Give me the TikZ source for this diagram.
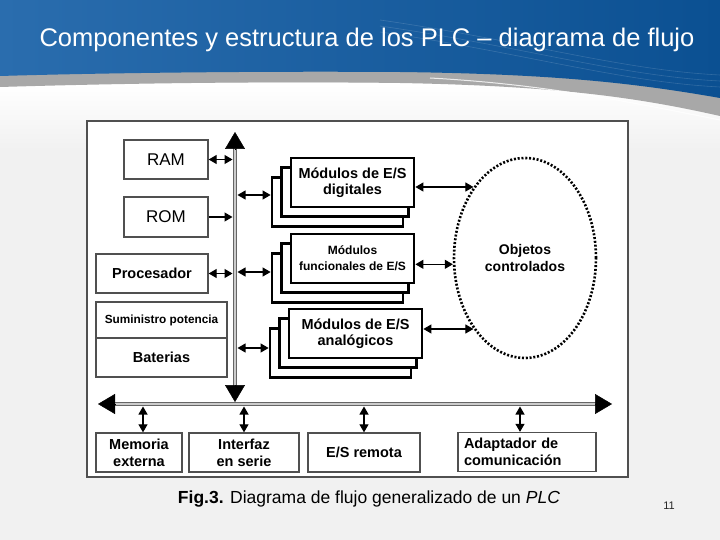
\documentclass[tikz,border=0pt]{standalone}
\usepackage{fontspec}
\setmainfont{Liberation Sans}
\usetikzlibrary{arrows.meta,shapes.geometric,calc}

\definecolor{hdrlight}{HTML}{2A6DAE}
\definecolor{hdrdark}{HTML}{0B5092}
\definecolor{swoosh}{HTML}{A8A8A8}
\definecolor{pagebg}{HTML}{F1F1F1}
\definecolor{framegray}{HTML}{505050}

\newcommand{\labfont}{\fontsize{14.5}{17}\selectfont\bfseries}

\tikzstyle{unit} = [draw=framegray,line width=1.3pt,fill=white,inner sep=0pt,align=center,font=\labfont]
\tikzstyle{module} = [draw=black,line width=2.8pt,fill=white,inner sep=0pt,align=center]
\tikzstyle{busline} = [draw=gray!80!black,double=gray!40,line width=0.9pt,double distance=1.8pt]
\tikzstyle{bustip} = [-{Triangle[length=17pt,width=20pt]},line width=0.5pt]
\tikzstyle{twoway} = [{Triangle[length=8pt,width=9pt]}-{Triangle[length=8pt,width=9pt]},line width=1.1pt]
\tikzstyle{oneway} = [-{Triangle[length=8pt,width=9pt]},line width=1.1pt]
\tikzstyle{objects} = [ellipse,draw,line width=2.6pt,dash pattern=on 2pt off 1.8pt,minimum width=142pt,minimum height=200pt,inner sep=0pt,align=center,font=\fontsize{14}{17}\selectfont\bfseries]

\begin{document}
\begin{tikzpicture}[x=1pt,y=-1pt]
      %background
      \fill[pagebg] (0,0) rectangle (720,540);
      \useasboundingbox (0,0) rectangle (720,540);
      \shade[top color=white,bottom color=pagebg] (0,84) rectangle (720,150);
      \fill[swoosh] (0,60) -- (720,60) -- (720,116) .. controls (640,98) and (560,86) .. (400,83) .. controls (250,81) and (100,84) .. (0,87) -- cycle;
      \draw[white,line width=1pt,opacity=0.8] (430,78) .. controls (540,84) and (620,100) .. (720,120);
      \shade[left color=hdrlight,right color=hdrdark] (0,0) -- (720,0) -- (720,98) .. controls (640,84) and (560,74) .. (400,72) .. controls (250,71) and (100,73) .. (0,76) -- cycle;
      \foreach \dy in {0,6,12}
        \draw[white,opacity=0.15,line width=0.6pt] (380,20+\dy) .. controls (520,40+\dy) and (620,70+\dy) .. (720,75+\dy);
      \node[font=\fontsize{25.5}{30}\selectfont,white,anchor=base] (title) at (367,47) {Componentes y estructura de los PLC – diagrama de flujo};

      %frame
      \draw[framegray,line width=1.6pt,fill=white] (87,121) rectangle (628,477);

      %buses
      \coordinate (vtop) at (235,132);
      \coordinate (vbot) at (235,402);
      \coordinate (hleft) at (98,404);
      \coordinate (hright) at (612,404);
      \draw[busline,shorten <=15pt,shorten >=15pt] (vtop) -- (vbot);
      \draw[busline,shorten <=15pt,shorten >=15pt] (hleft) -- (hright);
      \draw[bustip] ($(vtop)+(0,17)$) -- (vtop);
      \draw[bustip] ($(vbot)+(0,-17)$) -- (vbot);
      \draw[bustip] ($(hleft)+(17,0)$) -- (hleft);
      \draw[bustip] ($(hright)+(-17,0)$) -- (hright);

      %units
      \foreach \name/\x/\y/\w/\h/\txt in {
        ram/166/159.5/84/39/{\fontsize{17}{19}\selectfont\mdseries RAM},
        rom/166/217/84/40/{\fontsize{17}{19}\selectfont\mdseries ROM},
        proc/152/273.5/112/39/Procesador,
        sum/161.5/320/131/36/{\fontsize{11.8}{14}\selectfont\bfseries Suministro potencia},
        bat/161.5/357.5/131/39/Baterias,
        mem/139/452.5/86/39/{Memoria\\externa},
        ser/244/452.5/110/39/{Interfaz\\en serie},
        rem/364/452.5/112/39/{E/S remota}}
      {
        \node[unit,minimum width=\w,minimum height=\h] (\name) at (\x,\y) {\txt};
      };
      \node[unit,minimum width=138,minimum height=39,text width=126pt,align=left] (ada) at (527,452) {Adaptador de\\comunicación};

      %modules
      \foreach \name/\x/\y/\w/\sz/\txt in {
        dig/352.5/182.5/123/14.5/{Módulos de E/S\\digitales},
        fun/352.5/258.5/123/12/{Módulos\\funcionales de E/S},
        ana/355.5/333.5/133/14.5/{Módulos de E/S\\analógicos}}
      {
        \foreach \k in {2,1}
          \node[module,minimum width=\w+4*\k,minimum height=49] (\name\k) at (\x-7.5*\k,\y+9.75*\k) {};
        \node[module,minimum width=\w,minimum height=49,font=\fontsize{\sz}{16}\selectfont\bfseries] (\name) at (\x,\y) {\txt};
      };

      \node[objects] (obj) at (525,258) {Objetos\\controlados};

      %edges
      \draw[twoway,shorten >=2.5pt] (ram.east) -- (ram.east -| vtop);
      \draw[oneway,shorten >=2.5pt] (rom.east) -- (rom.east -| vtop);
      \draw[twoway,shorten >=2.5pt] (proc.east) -- (proc.east -| vtop);
      \foreach \tap/\y/\target in {bdig/195/dig2, bfun/272/fun2, bana/348/ana2}
      {
        \coordinate (\tap) at (235,\y);
        \draw[twoway,shorten <=2.5pt] (\tap) -- (\tap -| \target.west);
      };
      \foreach \tap/\x/\target in {tmem/143/mem, tser/244/ser, trem/364/rem, tada/520/ada}
      {
        \coordinate (\tap) at (\x,404);
        \draw[twoway,shorten <=2.5pt] (\tap) -- (\tap |- \target.north);
      };
      \foreach \src/\ang in {dig/126, fun/185, ana/234}
      {
        \draw[twoway] (obj.\ang -| \src.east) -- (obj.\ang);
      };

      %caption
      \node[font=\fontsize{17.5}{20}\selectfont,anchor=base] (caption) at (369,503) {\textbf{Fig.3.} Diagrama de flujo generalizado de un \textit{PLC}};
      \node[font=\fontsize{11}{13}\selectfont,text=gray!30!black,anchor=base] (page) at (669,509) {11};
\end{tikzpicture}
\end{document}
